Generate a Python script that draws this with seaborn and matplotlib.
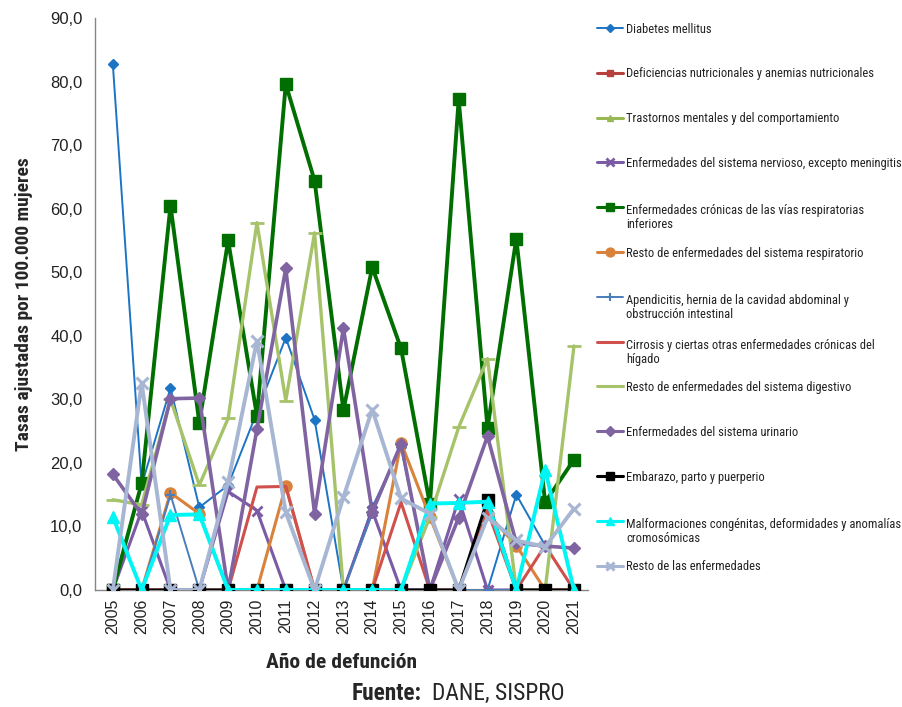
import numpy as np
import pandas as pd
import matplotlib
matplotlib.use("Agg")
import matplotlib.pyplot as plt
from matplotlib.lines import Line2D
import seaborn as sns

years = [str(y) for y in range(2005, 2022)]

diabetes = [82.7, 16.5, 31.8, 13.0, 16.5, 28.0, 39.7, 26.8, 0, 13.0, 22.5, 0, 0, 0, 15.0, 7.0, 0]
deficiencias = [0] * 17
trastornos = [0] * 17
nervioso = [0, 12.5, 0, 0, 15.5, 12.5, 0, 0, 0, 12.5, 0, 0, 14.3, 0, 0, 0, 0]
cronicas = [0, 16.8, 60.5, 26.3, 55.0, 27.4, 79.6, 64.4, 28.3, 50.8, 38.0, 13.5, 77.2, 25.5, 55.3, 13.8, 20.5]
resto_respiratorio = [0, 0, 15.3, 12.0, 0, 0, 16.4, 0, 0, 0, 23.2, 11.5, 0, 12.0, 7.0, 0, 0]
apendicitis = [0, 0, 15.0, 0, 0, 0, 0, 0, 0, 12.0, 23.0, 0, 0, 0, 0, 0, 0]
cirrosis = [0, 0, 0, 0, 0, 16.2, 16.3, 0, 0, 0, 13.8, 0, 0, 12.5, 0, 7.0, 0]
resto_digestivo = [14.2, 13.4, 30.0, 16.5, 27.0, 57.8, 29.8, 56.2, 0, 0, 0, 11.5, 25.6, 36.4, 0, 0, 38.4]
urinario = [18.2, 11.9, 30.1, 30.2, 0, 25.3, 50.6, 12.0, 41.2, 12.3, 23.0, 0, 11.4, 24.2, 7.4, 6.9, 6.6]
embarazo = [0] * 13 + [14.2, 0, 0, 0]
malformaciones = [11.5, 0, 11.8, 11.9, 0, 0, 0, 0, 0, 0, 0, 13.6, 13.7, 13.9, 0, 18.9, 0]
resto = [0, 32.6, 0, 0, 17.0, 39.2, 12.2, 0, 14.6, 28.4, 14.4, 12.0, 0, 11.4, 7.8, 6.8, 12.8]

labels = [
    "Diabetes mellitus",
    "Deficiencias nutricionales y anemias nutricionales",
    "Trastornos mentales y del comportamiento",
    "Enfermedades del sistema nervioso, excepto meningitis",
    "Enfermedades crónicas de las vías respiratorias\ninferiores",
    "Resto de enfermedades del sistema respiratorio",
    "Apendicitis, hernia de la cavidad abdominal y\nobstrucción intestinal",
    "Cirrosis y ciertas otras enfermedades crónicas del\nhígado",
    "Resto de enfermedades del sistema digestivo",
    "Enfermedades del sistema urinario",
    "Embarazo, parto y puerperio",
    "Malformaciones congénitas, deformidades y anomalías\ncromosómicas",
    "Resto de las enfermedades",
]
series = [diabetes, deficiencias, trastornos, nervioso, cronicas, resto_respiratorio,
          apendicitis, cirrosis, resto_digestivo, urinario, embarazo, malformaciones, resto]

# colour, marker, marker size, line width, marker edge width
styles = [
    ("#1C75C4", "D", 5, 1.4, 1.0),
    ("#B7413E", "s", 6, 2.2, 1.0),
    ("#97B853", "^", 6, 2.2, 1.0),
    ("#7B5AA6", "x", 7, 2.2, 2.0),
    ("#006E00", "s", 8, 2.8, 1.0),
    ("#D9823B", "o", 8, 2.2, 1.0),
    ("#4A7EBB", "+", 7, 1.4, 1.5),
    ("#D0504D", "", 0, 2.2, 1.0),
    ("#A6C36A", "_", 10, 2.4, 2.0),
    ("#8064A2", "D", 6, 2.6, 1.0),
    ("#000000", "s", 8, 2.2, 1.0),
    ("#00F5F5", "^", 8, 2.8, 1.0),
    ("#A7B6D2", "x", 8, 2.8, 2.2),
]

sns.set_theme(style="white")
fam = ["Roboto Condensed", "Liberation Sans Narrow", "Liberation Sans", "DejaVu Sans"]
plt.rcParams["font.family"] = fam

fig = plt.figure(figsize=(9.02, 7.07), dpi=100)
ax = fig.add_axes([0.1053, 0.1655, 0.547, 0.809])

x = np.arange(len(years))
for name, vals, (col, mk, ms, lw, mew) in zip(labels, series, styles):
    df = pd.DataFrame({"x": x, "y": vals})
    sns.lineplot(data=df, x="x", y="y", ax=ax, color=col, linewidth=lw,
                 marker=mk if mk else None, markersize=ms, markeredgewidth=mew,
                 markeredgecolor=col, markerfacecolor=col, legend=False,
                 zorder=3)

ax.set_xlim(-0.62, 16.5)
ax.set_ylim(0, 90)
ax.set_yticks(np.arange(0, 91, 10))
ax.set_yticklabels([f"{v:.1f}".replace(".", ",") for v in np.arange(0, 91, 10)],
                   fontsize=12, fontfamily=["Liberation Sans", "DejaVu Sans"], color="#222222")
ax.set_xticks(x)
ax.set_xticklabels(years, rotation=90, fontsize=11.5,
                   fontfamily=["Liberation Sans", "DejaVu Sans"], color="#222222")
ax.set_xticks(np.arange(-0.5, 16.6, 1), minor=True)
ax.tick_params(axis="x", which="major", length=0, pad=6)
ax.tick_params(axis="x", which="minor", length=4, color="#868686", direction="out")
ax.tick_params(axis="y", which="major", length=5, color="#868686", direction="out", pad=4)
for s in ["top", "right"]:
    ax.spines[s].set_visible(False)
for s in ["left", "bottom"]:
    ax.spines[s].set_color("#868686")
    ax.spines[s].set_linewidth(1.0)

xl = ax.set_xlabel("Año de defunción", fontsize=13, fontweight="bold", labelpad=14)
yl = ax.set_ylabel("Tasas ajustadas por 100.000 mujeres", fontsize=13, fontweight="bold", labelpad=12)

# legend drawn on the right side
W, H = 902.0, 707.0
LINE_PX = 16.5
leg_texts = []
for i, (name, (col, mk, ms, lw, mew)) in enumerate(zip(labels, styles)):
    ypx = 28 + i * 44.8
    yf = 1 - ypx / H
    fig.add_artist(Line2D([597 / W, 623 / W], [yf, yf], color=col, linewidth=min(lw, 2.2),
                          transform=fig.transFigure))
    if mk:
        fig.add_artist(Line2D([610 / W], [yf], color=col, marker=mk, markersize=ms * 0.8,
                              markeredgewidth=mew, markeredgecolor=col, markerfacecolor=col,
                              transform=fig.transFigure))
    t = fig.text(626 / W, 1 - ypx / H, name, fontsize=10, va="baseline", ha="left",
                 color="#222222")
    leg_texts.append((t, ypx, name.count("\n")))

f1 = fig.text(352 / W, 1 - 693 / H, "Fuente:", fontsize=14, fontweight="bold",
              va="center", ha="left")
f2 = fig.text(432 / W, 1 - 693 / H, "DANE, SISPRO", fontsize=14, va="center", ha="left")

# fit the text widths to the available room
fig.canvas.draw()
r = fig.canvas.get_renderer()
maxw = max(t.get_window_extent(r).width for t, _, _ in leg_texts)
scale = min(1.0, (899 - 626) / maxw)
fs = 10 * scale
fs_px = fs * 100 / 72
for t, ypx, extra in leg_texts:
    t.set_fontsize(fs)
    t.set_linespacing(LINE_PX / fs_px / 1.2 * 1.0)
    # first line centred on the legend marker; further lines go below it
    t.set_y(1 - (ypx + fs_px * 0.36 + extra * LINE_PX) / H)

yh = yl.get_window_extent(r).height
yl.set_fontsize(13 * min(1.3, 292 / yh))
xw = xl.get_window_extent(r).width
xl.set_fontsize(13 * min(1.3, 150 / xw))
w1 = f1.get_window_extent(r).width
f1.set_fontsize(14 * min(1.2, 74 / w1))
w2 = f2.get_window_extent(r).width
f2.set_fontsize(14 * min(1.2, 134 / w2))

fig.savefig("out.png", dpi=100)
